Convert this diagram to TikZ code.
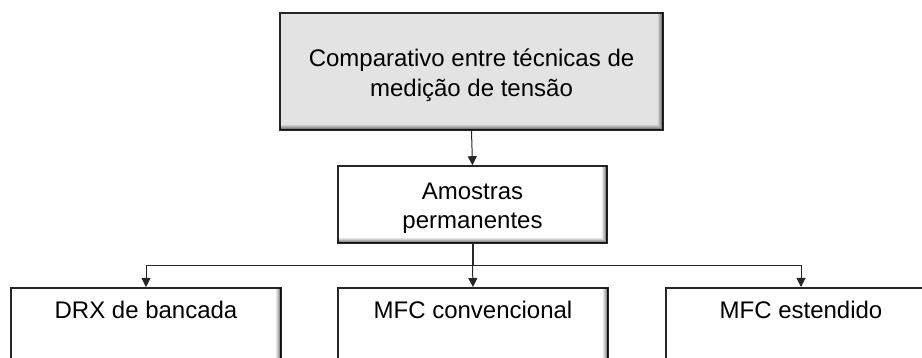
\documentclass[tikz,border=0pt]{standalone}
\usepackage{fontspec}
\setmainfont{Liberation Sans}
\usetikzlibrary{arrows.meta}
\newcommand\bevelbox[1]{%
  \foreach \i/\o in {1.5/0.55,2.5/0.42,3.5/0.30,4.5/0.19,5.5/0.10}{%
    \draw[black, draw opacity=\o, line width=1pt]
      ([xshift=-\i pt, yshift=-1pt]#1.north east) -- ([xshift=-\i pt, yshift=\i pt]#1.south east)
      -- ([xshift=1pt, yshift=\i pt]#1.south west);
  }%
}
\newcommand\twolines[3]{\raisebox{#1}[\height][\depth]{\begin{tabular}{@{}c@{}}#2\\#3\end{tabular}}}
\begin{document}
\begin{tikzpicture}[x=1pt,y=-1pt,
  box/.style={draw=black!85, line width=1.6pt, inner sep=0pt, align=center,
    font=\fontsize{24}{30}\selectfont},
  link/.style={draw=black!85, line width=1pt},
  tip/.style={-{Triangle[length=9pt,width=9pt]}}]
\useasboundingbox (0,0) rectangle (922,358);
\clip (0,0) rectangle (922,358);
\node[box, fill=black!11, minimum width=383pt, minimum height=117pt] (top) at (471.5,71.5)
  {\twolines{-4pt}{Comparativo entre técnicas de}{medição de tensão}};
\node[box, fill=white, minimum width=269pt, minimum height=77pt,
  font=\fontsize{24}{28.5}\selectfont] (mid) at (472.5,204.5)
  {\twolines{-4pt}{Amostras}{permanentes}};
\node[box, fill=white, anchor=north, minimum width=270pt, text height=31pt, text depth=90pt] (drx) at (146,287) {DRX de bancada};
\node[box, fill=white, anchor=north, minimum width=270pt, text height=31pt, text depth=90pt] (conv) at (473,287) {MFC convencional};
\node[box, fill=white, anchor=north, minimum width=270pt, text height=31pt, text depth=90pt] (ext) at (801,287) {MFC estendido};
\bevelbox{top}
\bevelbox{mid}
\bevelbox{drx}
\bevelbox{conv}
\bevelbox{ext}
\coordinate (split) at (mid.south |- 0,266);
\draw[link, tip] (top.south) -- (mid.north);
\draw[link, line width=2pt] (mid.south) -- (split);
\draw[link, tip] (split) -| (drx.north);
\draw[link, tip] (split) -- (conv.north);
\draw[link, tip] (split) -| (ext.north);
\end{tikzpicture}
\end{document}
